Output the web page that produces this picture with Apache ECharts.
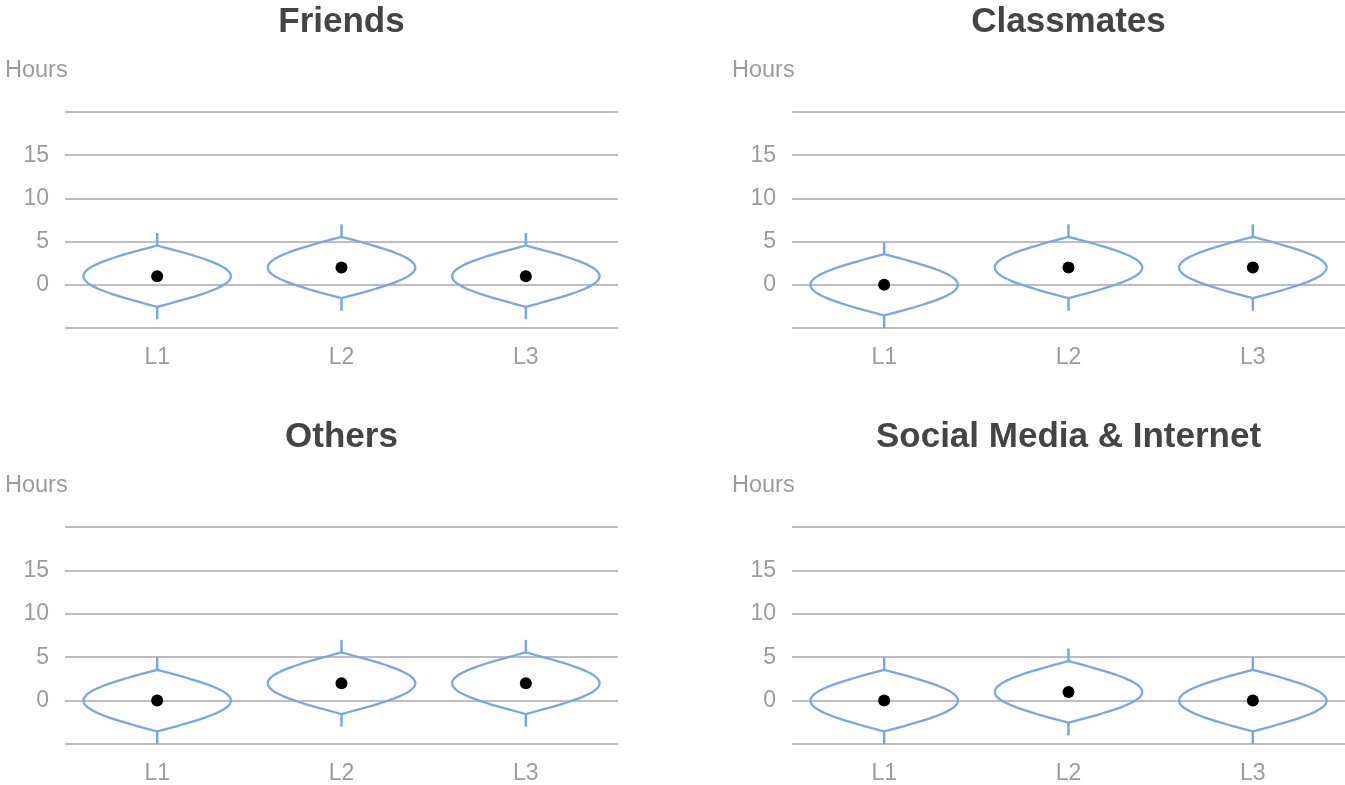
<!DOCTYPE html>
<html>
<head>
<meta charset="utf-8">
<script src="https://cdn.jsdelivr.net/npm/echarts@6/dist/echarts.min.js"></script>
<style>
html,body{margin:0;padding:0;background:#fff;}
#chart{width:1345px;height:785px;}
</style>
</head>
<body>
<div id="chart"></div>
<script>
// ---- data ----
const categories = ['L1', 'L2', 'L3'];
const panelTitles = ['Friends', 'Classmates', 'Others', 'Social Media & Internet'];
const yAxisName = 'Hours';
const yTicks = [-5, 0, 5, 10, 15, 20];
const yLabelled = [0, 5, 10, 15];

const friendsMedian = [1, 2, 1];
const friendsLensLow = [-2.55, -1.55, -2.55];
const friendsLensHigh = [4.55, 5.55, 4.55];
const friendsWhiskerLow = [-4, -3, -4];
const friendsWhiskerHigh = [6, 7, 6];

const classmatesMedian = [0, 2, 2];
const classmatesLensLow = [-3.55, -1.55, -1.55];
const classmatesLensHigh = [3.55, 5.55, 5.55];
const classmatesWhiskerLow = [-5, -3, -3];
const classmatesWhiskerHigh = [5, 7, 7];

const othersMedian = [0, 2, 2];
const othersLensLow = [-3.55, -1.55, -1.55];
const othersLensHigh = [3.55, 5.55, 5.55];
const othersWhiskerLow = [-5, -3, -3];
const othersWhiskerHigh = [5, 7, 7];

const socialMedian = [0, 1, 0];
const socialLensLow = [-3.55, -2.55, -3.55];
const socialLensHigh = [3.55, 4.55, 3.55];
const socialWhiskerLow = [-5, -4, -5];
const socialWhiskerHigh = [5, 6, 5];

const panels = [
  [friendsMedian, friendsLensLow, friendsLensHigh, friendsWhiskerLow, friendsWhiskerHigh],
  [classmatesMedian, classmatesLensLow, classmatesLensHigh, classmatesWhiskerLow, classmatesWhiskerHigh],
  [othersMedian, othersLensLow, othersLensHigh, othersWhiskerLow, othersWhiskerHigh],
  [socialMedian, socialLensLow, socialLensHigh, socialWhiskerLow, socialWhiskerHigh]
];

// ---- layout ----
const FONT = '"Liberation Sans", Arial, Helvetica, sans-serif';
const gridPos = [
  {left: 65, top: 112, width: 553, height: 216},
  {left: 792, top: 112, width: 553, height: 216},
  {left: 65, top: 527, width: 553, height: 217},
  {left: 792, top: 527, width: 553, height: 217}
];
const LINE_BLUE = '#79a7e3';
const LABEL_GRAY = '#9c9c9c';

const chart = echarts.init(document.getElementById('chart'), null, {renderer: 'canvas'});

const titles = [];
const grids = [];
const xAxes = [];
const yAxes = [];
const series = [];

panels.forEach((p, i) => {
  const g = gridPos[i];
  titles.push({
    text: panelTitles[i],
    left: g.left + g.width / 2,
    top: g.top - 110,
    padding: 0,
    textAlign: 'center',
    textStyle: {fontFamily: FONT, fontSize: 35, fontWeight: 'bold', color: '#444444', lineHeight: 40}
  });
  titles.push({
    text: yAxisName,
    left: g.left - 60,
    top: g.top - 55,
    padding: 0,
    textStyle: {fontFamily: FONT, fontSize: 23.5, fontWeight: 'normal', color: LABEL_GRAY, lineHeight: 28}
  });
  grids.push({left: g.left, top: g.top, width: g.width, height: g.height, containLabel: false});
  xAxes.push({
    gridIndex: i,
    type: 'category',
    data: categories,
    boundaryGap: true,
    axisLine: {show: false},
    axisTick: {show: false},
    splitLine: {show: false},
    axisLabel: {color: LABEL_GRAY, fontFamily: FONT, fontSize: 23, margin: 18}
  });
  yAxes.push({
    gridIndex: i,
    type: 'value',
    min: yTicks[0],
    max: yTicks[yTicks.length - 1],
    interval: 5,
    axisLine: {show: false},
    axisTick: {show: false},
    splitLine: {show: true, lineStyle: {color: '#bdbdc5', width: 2}},
    axisLabel: {
      color: LABEL_GRAY, fontFamily: FONT, fontSize: 23, margin: 16,
      formatter: v => (yLabelled.indexOf(v) >= 0 ? String(v) : '')
    }
  });
  const data = categories.map((c, k) => [k, p[0][k], p[1][k], p[2][k], p[3][k], p[4][k]]);
  series.push({
    type: 'custom',
    xAxisIndex: i,
    yAxisIndex: i,
    data: data,
    renderItem: function (params, api) {
      const x = api.value(0);
      const lo = api.value(2), hi = api.value(3);
      const wlo = api.value(4), whi = api.value(5);
      const band = api.size([1, 0])[0];
      const W = band * 0.4;
      const c = (lo + hi) / 2, h = (hi - lo) / 2;
      const center = api.coord([x, c]);
      const N = 80;
      const pts = [];
      for (let j = 0; j <= N; j++) {
        const u = -1 + 2 * j / N;
        const py = api.coord([x, c + u * h])[1];
        pts.push([center[0] + W * Math.cos(Math.PI / 2 * u), py]);
      }
      for (let j = N; j >= 0; j--) {
        const u = -1 + 2 * j / N;
        const py = api.coord([x, c + u * h])[1];
        pts.push([center[0] - W * Math.cos(Math.PI / 2 * u), py]);
      }
      const pTop = api.coord([x, hi]);
      const pBot = api.coord([x, lo]);
      const pWT = api.coord([x, whi]);
      const pWB = api.coord([x, wlo]);
      return {
        type: 'group',
        children: [
          {type: 'polygon', shape: {points: pts}, style: {fill: 'none', stroke: LINE_BLUE, lineWidth: 2.3}},
          {type: 'line', shape: {x1: pTop[0], y1: pTop[1], x2: pWT[0], y2: pWT[1]}, style: {stroke: LINE_BLUE, lineWidth: 2.5}},
          {type: 'line', shape: {x1: pBot[0], y1: pBot[1], x2: pWB[0], y2: pWB[1]}, style: {stroke: LINE_BLUE, lineWidth: 2.5}}
        ]
      };
    },
    silent: true,
    z: 2
  });
  series.push({
    type: 'scatter',
    xAxisIndex: i,
    yAxisIndex: i,
    data: categories.map((c, k) => [k, p[0][k]]),
    symbol: 'circle',
    symbolSize: 12,
    itemStyle: {color: '#000000', opacity: 1},
    silent: true,
    z: 3
  });
});

chart.setOption({
  animation: false,
  backgroundColor: '#ffffff',
  title: titles,
  grid: grids,
  xAxis: xAxes,
  yAxis: yAxes,
  series: series
});
</script>
</body>
</html>
